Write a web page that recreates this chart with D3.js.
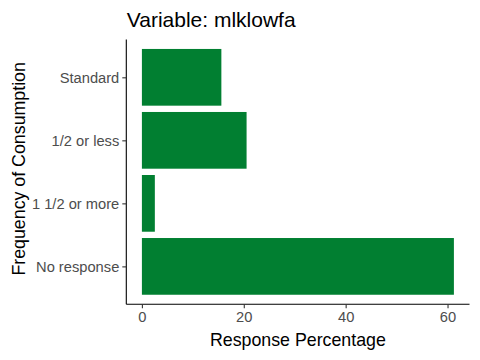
<!DOCTYPE html>
<html><head><meta charset="utf-8">
<script src="https://cdn.jsdelivr.net/npm/d3@7"></script>
<style>body{margin:0;background:#fff}svg{display:block}text{font-family:"Liberation Sans",Arial,sans-serif}</style>
</head><body>
<svg id="c" width="480" height="360"></svg>
<script>
const categories = ["Standard", "1/2 or less", "1 1/2 or more", "No response"];
const values = [15.6, 20.55, 2.54, 61.25];
const xTicks = [0, 20, 40, 60];
const title = "Variable: mlklowfa";
const xLabel = "Response Percentage";
const yLabel = "Frequency of Consumption";

const svg = d3.select("#c");
const L = 126.3, R = 469.5, T = 39.5, B = 304.2;
const maxV = d3.max(values);
const pad = maxV * 0.05;
const x = d3.scaleLinear().domain([-pad, maxV + pad]).range([L, R]);
// ggplot discrete: centers spaced 1 unit, 0.6 expansion, bar width 0.9
const step = (B - T) / (categories.length - 1 + 1.2);
const y = d3.scalePoint().domain(categories).range([T + 0.6 * step, B - 0.6 * step]);
const bh = 0.9 * step;

svg.append("g").selectAll("rect").data(categories).join("rect")
  .attr("x", x(0)).attr("y", d => y(d) - bh / 2)
  .attr("width", (d, i) => x(values[i]) - x(0)).attr("height", bh)
  .attr("fill", "#017f31");

const xa = svg.append("g").attr("transform", `translate(0,${B})`)
  .call(d3.axisBottom(x).tickValues(xTicks).tickSize(4).tickPadding(3).tickSizeOuter(0));
xa.select(".domain").attr("d", `M${L},0H${R}`).attr("stroke", "#000").attr("stroke-width", 1.1);
xa.selectAll(".tick line").attr("stroke", "#333").attr("stroke-width", 1.1);
xa.selectAll(".tick text").attr("fill", "#4d4d4d").attr("font-size", 14.7);

const ya = svg.append("g").attr("transform", `translate(${L},0)`)
  .call(d3.axisLeft(y).tickSize(4).tickPadding(3).tickSizeOuter(0));
ya.select(".domain").attr("d", `M0,${T}V${B}`).attr("stroke", "#000").attr("stroke-width", 1.1);
ya.selectAll(".tick line").attr("stroke", "#333").attr("stroke-width", 1.1);
ya.selectAll(".tick text").attr("fill", "#4d4d4d").attr("font-size", 14.7);

svg.append("text").attr("x", L + 0.5).attr("y", 26.7).attr("font-size", 21).attr("fill", "#000").text(title);
svg.append("text").attr("x", (L + R) / 2).attr("y", 346).attr("text-anchor", "middle")
  .attr("font-size", 17.8).attr("fill", "#000").text(xLabel);
svg.append("text").attr("transform", `translate(25,${(T + B) / 2 - 3}) rotate(-90)`).attr("text-anchor", "middle")
  .attr("font-size", 17.8).attr("fill", "#000").text(yLabel);
</script>
</body></html>
